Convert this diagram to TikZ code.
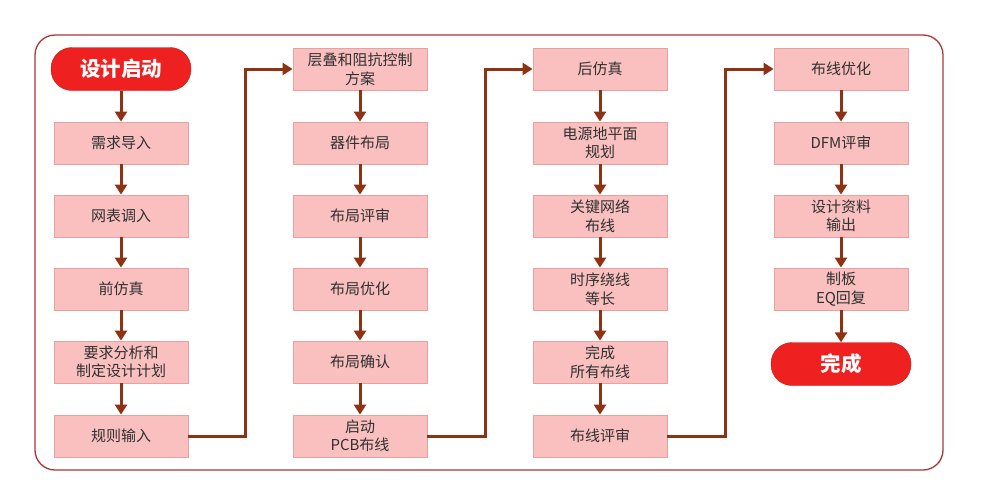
\documentclass[tikz,border=0pt]{standalone}
\usepackage{fontspec}
\setmainfont{Noto Sans CJK SC}
\usetikzlibrary{arrows.meta}
\definecolor{boxfill}{HTML}{FAC0C0}
\definecolor{boxline}{HTML}{E8A0A0}
\definecolor{arr}{HTML}{8E3214}
\definecolor{pill}{HTML}{EE2020}
\definecolor{frame}{HTML}{A83838}
\definecolor{txt}{HTML}{303030}
\begin{document}
\begin{tikzpicture}[x=1pt,y=-1pt,
  stepbox/.style={draw=boxline,line width=0.8pt,fill=boxfill,minimum width=134pt,minimum height=42pt,align=center,text=txt,font=\fontsize{15}{18.5}\selectfont,inner sep=1pt},
  pillbox/.style={fill=pill,draw=pill!80!black,line width=0.4pt,rounded corners=21pt,minimum width=140pt,minimum height=43pt,text=white,font=\fontsize{20.5}{22}\selectfont\bfseries},
  flow/.style={draw=arr,line width=3pt,-{Triangle[length=10pt,width=12pt]}}]
\useasboundingbox (0,0) rectangle (989,488);
\draw[frame,line width=1.3pt,rounded corners=20pt] (35,35) rectangle (943,470);
% column 1
\node[pillbox] (s) at (121,69) {设计启动};
\node[stepbox] (a1) at (121,143) {需求导入};
\node[stepbox] (a2) at (121,216) {网表调入};
\node[stepbox] (a3) at (121,289) {前仿真};
\node[stepbox] (a4) at (121,362) {要求分析和\\制定设计计划};
\node[stepbox] (a5) at (121,436) {规则输入};
% column 2
\node[stepbox] (b1) at (360,69) {层叠和阻抗控制\\方案};
\node[stepbox] (b2) at (360,143) {器件布局};
\node[stepbox] (b3) at (360,216) {布局评审};
\node[stepbox] (b4) at (360,289) {布局优化};
\node[stepbox] (b5) at (360,362) {布局确认};
\node[stepbox] (b6) at (360,436) {启动\\PCB布线};
% column 3
\node[stepbox] (c1) at (600,69) {后仿真};
\node[stepbox] (c2) at (600,143) {电源地平面\\规划};
\node[stepbox] (c3) at (600,216) {关键网络\\布线};
\node[stepbox] (c4) at (600,289) {时序绕线\\等长};
\node[stepbox] (c5) at (600,362) {完成\\所有布线};
\node[stepbox] (c6) at (600,436) {布线评审};
% column 4
\node[stepbox] (d1) at (841,69) {布线优化};
\node[stepbox] (d2) at (841,143) {DFM评审};
\node[stepbox] (d3) at (841,216) {设计资料\\输出};
\node[stepbox] (d4) at (841,289) {制板\\EQ回复};
\node[pillbox] (e) at (841,364) {完成};
% connectors
\foreach \u/\v in {s/a1,a1/a2,a2/a3,a3/a4,a4/a5,b1/b2,b2/b3,b3/b4,b4/b5,b5/b6,c1/c2,c2/c3,c3/c4,c4/c5,c5/c6,d1/d2,d2/d3,d3/d4,d4/e}
  \draw[flow] (\u) -- (\v);
\draw[flow] (a5.east) -| (245,100) |- (b1.west);
\draw[flow] (b6.east) -| (485,100) |- (c1.west);
\draw[flow] (c6.east) -| (725,100) |- (d1.west);
\end{tikzpicture}
\end{document}
